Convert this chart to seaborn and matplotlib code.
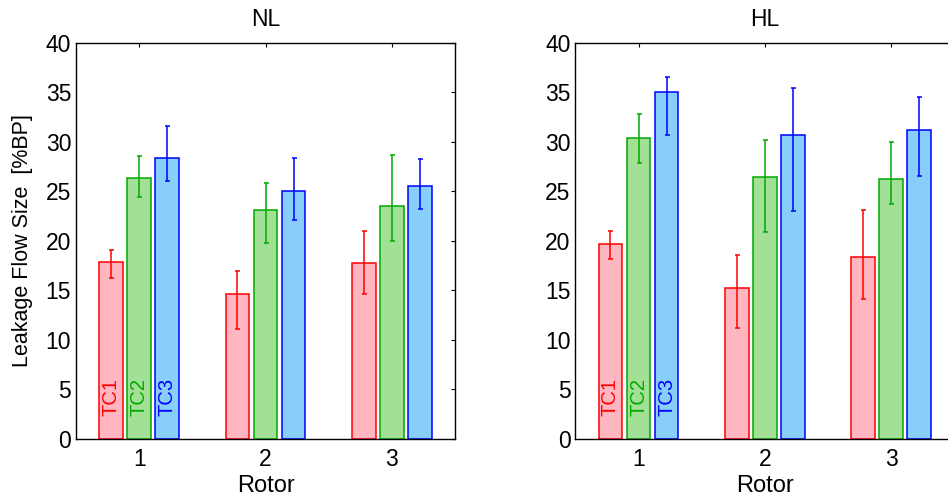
import pandas as pd
import matplotlib
matplotlib.use("Agg")
import matplotlib.pyplot as plt
import seaborn as sns

# values (mean, lower / upper error-bar ends)
rotors = ["1", "2", "3"]
cases = ["TC1", "TC2", "TC3"]

nl_mean = {"TC1": [17.9, 14.6, 17.8], "TC2": [26.3, 23.1, 23.5], "TC3": [28.4, 25.0, 25.5]}
nl_low = {"TC1": [16.2, 11.1, 14.6], "TC2": [24.4, 19.8, 20.0], "TC3": [26.0, 22.1, 23.2]}
nl_high = {"TC1": [19.1, 16.9, 21.0], "TC2": [28.6, 25.8, 28.7], "TC3": [31.6, 28.4, 28.3]}

hl_mean = {"TC1": [19.7, 15.2, 18.4], "TC2": [30.4, 26.4, 26.2], "TC3": [35.0, 30.7, 31.2]}
hl_low = {"TC1": [18.2, 11.2, 14.1], "TC2": [27.9, 20.9, 23.7], "TC3": [30.7, 23.0, 26.5]}
hl_high = {"TC1": [21.0, 18.6, 23.1], "TC2": [32.8, 30.2, 30.0], "TC3": [36.6, 35.4, 34.5]}

fill_colors = ["#FFB6C1", "#A2E096", "#87CEFA"]
edge_colors = ["#FF0000", "#00AA00", "#0000FF"]

sns.set_style("white")
plt.rcParams["font.family"] = ["Liberation Sans", "DejaVu Sans"]
plt.rcParams["font.size"] = 16
plt.rcParams["text.color"] = "black"
plt.rcParams["axes.labelcolor"] = "black"
plt.rcParams["xtick.color"] = "black"
plt.rcParams["ytick.color"] = "black"


def make_frame(mean):
    rows = []
    for tc in cases:
        for r, v in zip(rotors, mean[tc]):
            rows.append({"Rotor": r, "Case": tc, "Value": v})
    return pd.DataFrame(rows)


def draw_panel(ax, title, mean, low, high, show_ylabel):
    df = make_frame(mean)
    sns.barplot(data=df, x="Rotor", y="Value", hue="Case", order=rotors,
                hue_order=cases, palette=fill_colors, width=0.667, gap=0.16,
                errorbar=None, legend=False, saturation=1, ax=ax)

    for cont, tc, ec in zip(ax.containers, cases, edge_colors):
        xs = []
        for bar in cont:
            bar.set_edgecolor(ec)
            bar.set_linewidth(1.1)
            xs.append(bar.get_x() + bar.get_width() / 2)
        m = mean[tc]
        yerr = [[v - lo for v, lo in zip(m, low[tc])],
                [hi - v for v, hi in zip(m, high[tc])]]
        ax.errorbar(xs, m, yerr=yerr, fmt="none", ecolor=ec,
                    elinewidth=1.1, capsize=1.8, capthick=1.1)
        # case label written vertically inside the first bar
        ax.text(xs[0], 2.3, tc, rotation=90, ha="center", va="bottom",
                color=ec, fontsize=14.5)

    ax.set_xlim(-0.5, 2.5)
    ax.set_ylim(0, 40)
    ax.set_yticks(range(0, 41, 5))
    ax.set_title(title, fontsize=16.5, pad=12, color="black")
    ax.set_xlabel("Rotor", fontsize=17, labelpad=3)
    if show_ylabel:
        ax.set_ylabel("Leakage Flow Size  [%BP]", fontsize=15.5, labelpad=9)
    else:
        ax.set_ylabel("")
    ax.tick_params(direction="in", top=True, right=True, length=3,
                   width=0.8, labelsize=16.5, colors="black")
    ax.tick_params(axis="x", pad=7)
    for s in ax.spines.values():
        s.set_visible(True)
        s.set_color("black")
        s.set_linewidth(1.0)


fig = plt.figure(figsize=(9.48, 4.99), dpi=100)
ax1 = fig.add_axes([0.0802, 0.1212, 0.3998, 0.7926])
ax2 = fig.add_axes([0.6069, 0.1212, 0.3998, 0.7926])

draw_panel(ax1, "NL", nl_mean, nl_low, nl_high, True)
draw_panel(ax2, "HL", hl_mean, hl_low, hl_high, False)

fig.savefig("out.png", dpi=100)
